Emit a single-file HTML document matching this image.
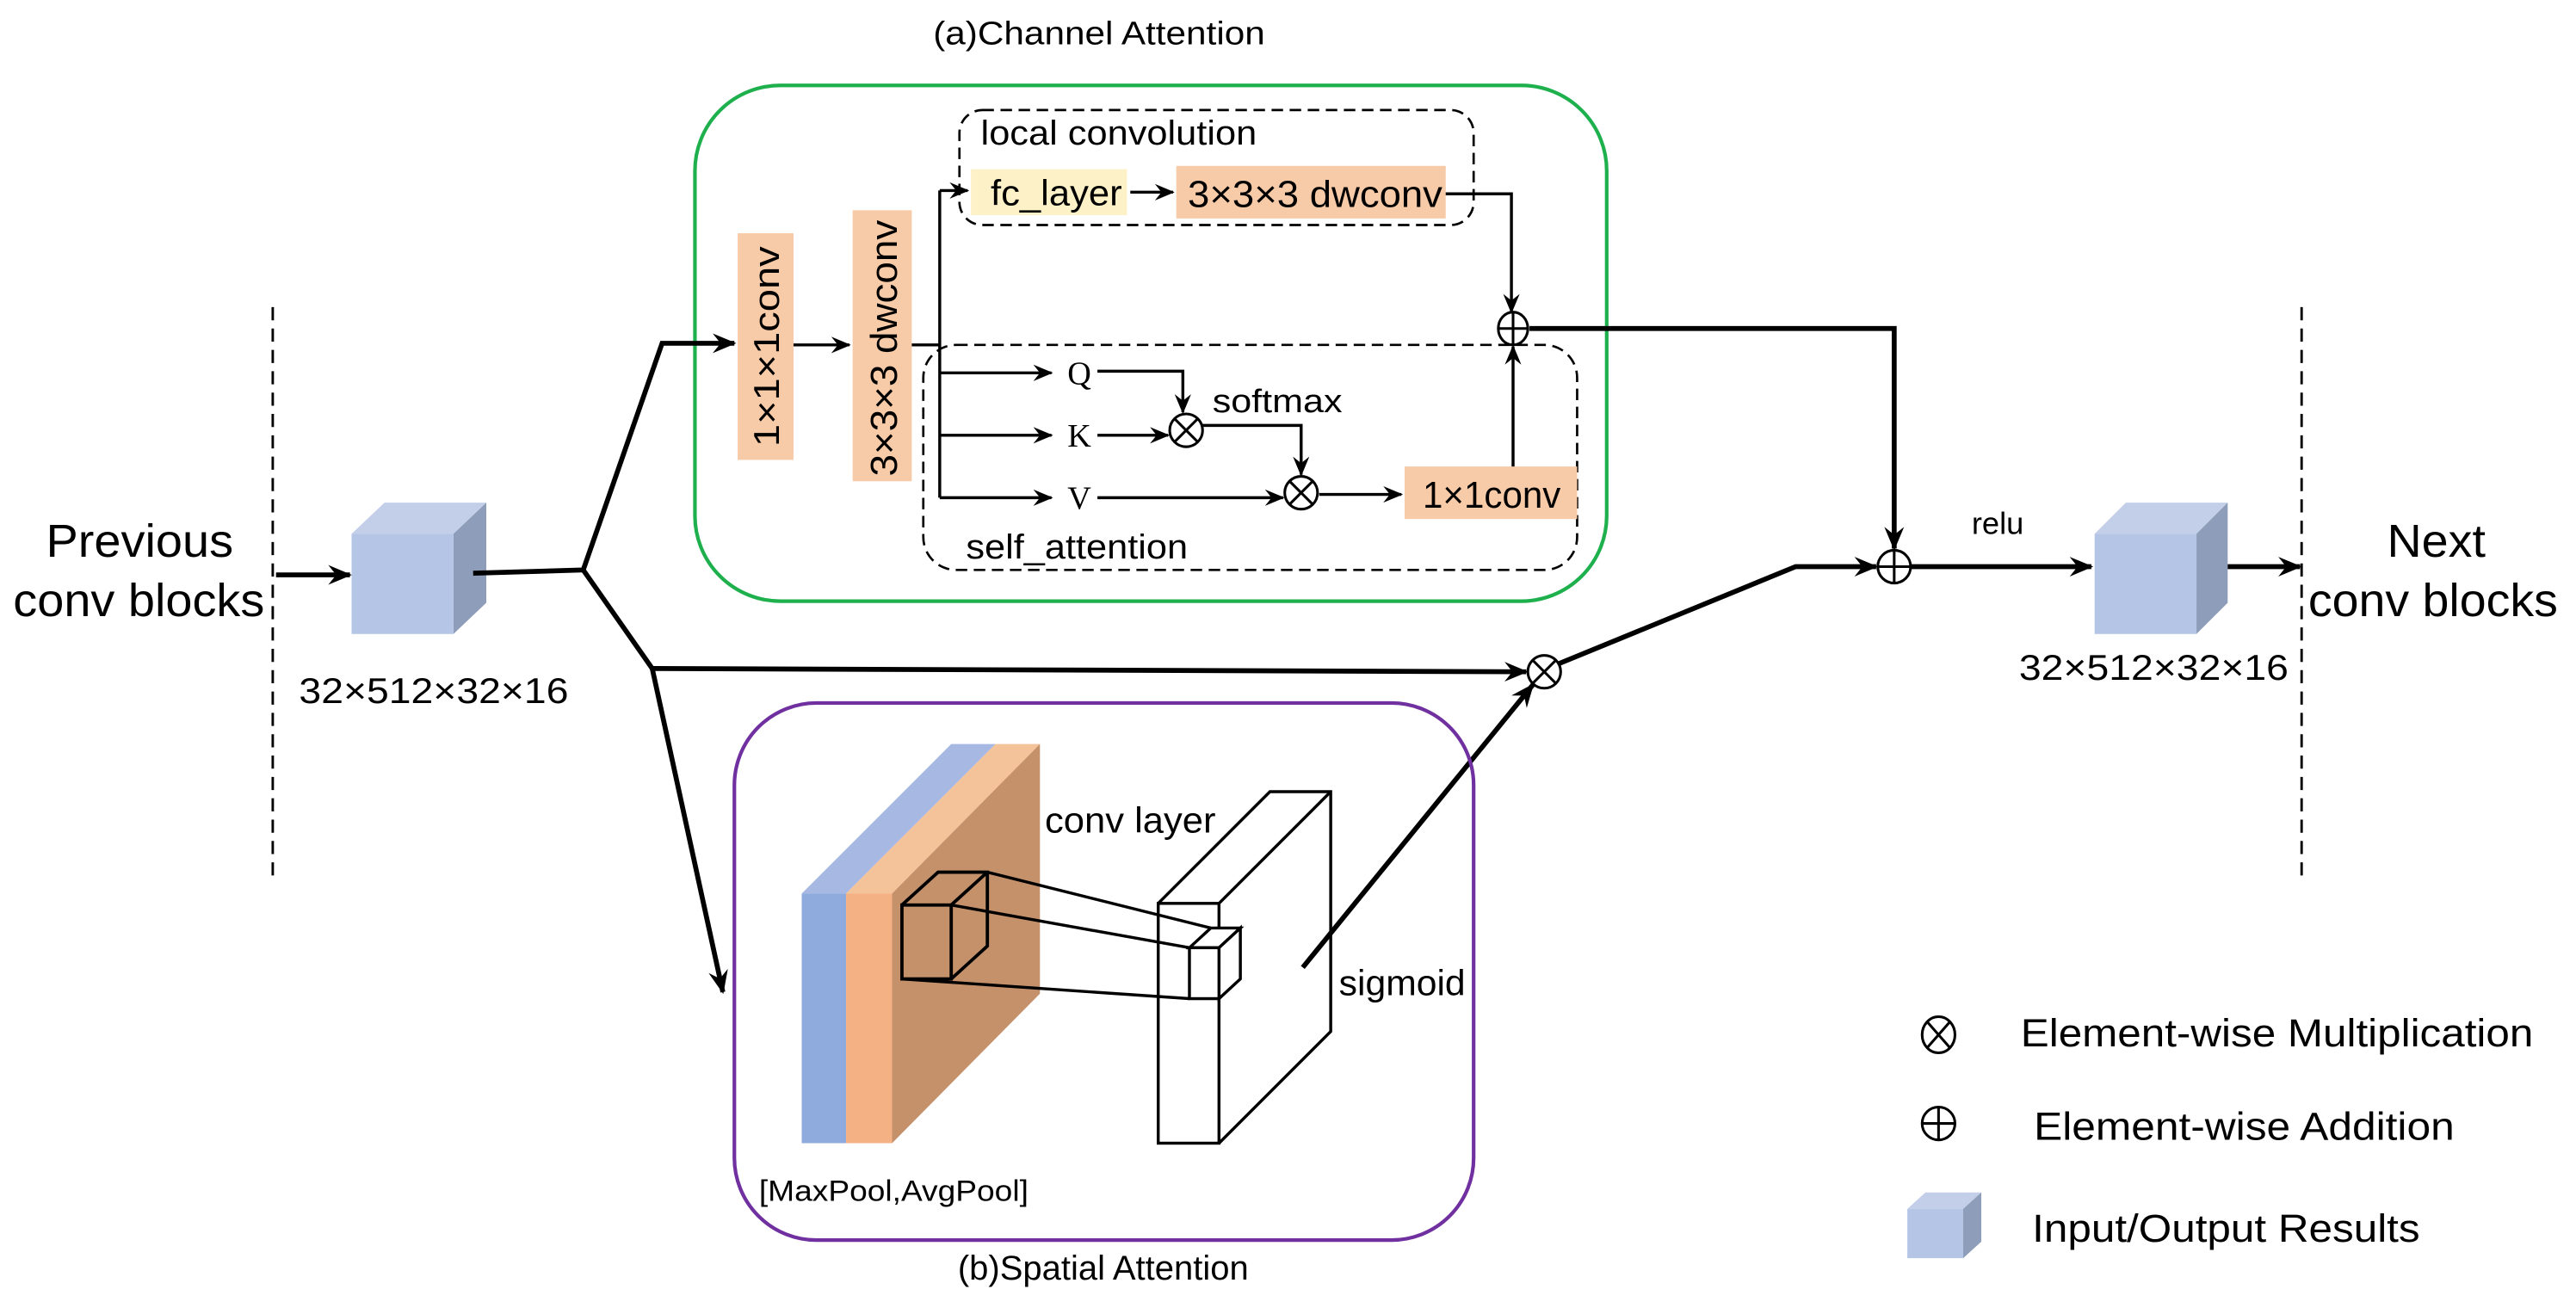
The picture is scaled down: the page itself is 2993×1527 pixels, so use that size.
<!DOCTYPE html>
<html><head><meta charset="utf-8"><style>html,body{margin:0;padding:0;background:#fff}svg{display:block}</style></head>
<body>
<svg xmlns="http://www.w3.org/2000/svg" width="2993" height="1527" viewBox="0 0 1568 800" font-family="Liberation Sans, sans-serif">
<defs>
<marker id="a" viewBox="0 0 12 10" refX="11" refY="5" markerWidth="12" markerHeight="10" markerUnits="userSpaceOnUse" orient="auto"><path d="M0,0 L12,5 L0,10 L4,5 z" fill="#000"/></marker>
<marker id="b" viewBox="0 0 12 10" refX="11" refY="5" markerWidth="15" markerHeight="12" markerUnits="userSpaceOnUse" orient="auto"><path d="M0,0 L12,5 L0,10 L4,5 z" fill="#000"/></marker>
</defs>
<rect width="1568" height="800" fill="#fff"/>

<line x1="166" y1="187" x2="166" y2="538" stroke="#000" stroke-width="1.5" stroke-dasharray="8,5"/>
<line x1="1401" y1="187" x2="1401" y2="538" stroke="#000" stroke-width="1.5" stroke-dasharray="8,5"/>

<text x="28" y="339" font-size="28" textLength="114" lengthAdjust="spacingAndGlyphs">Previous</text>
<text x="8" y="375" font-size="28" textLength="153" lengthAdjust="spacingAndGlyphs">conv blocks</text>
<text x="1453" y="339" font-size="28" textLength="60" lengthAdjust="spacingAndGlyphs">Next</text>
<text x="1405" y="375" font-size="28" textLength="152" lengthAdjust="spacingAndGlyphs">conv blocks</text>

<g>
<polygon points="214,325 234,306 296,306 276,325" fill="#c3cfe9"/>
<polygon points="276,325 296,306 296,367 276,386" fill="#8e9db9"/>
<rect x="214" y="325" width="62" height="61" fill="#b4c5e6"/>
</g>
<g>
<polygon points="1275,325 1294,306 1356,306 1337,325" fill="#c3cfe9"/>
<polygon points="1337,325 1356,306 1356,367 1337,386" fill="#8e9db9"/>
<rect x="1275" y="325" width="62" height="61" fill="#b4c5e6"/>
</g>
<text x="182" y="428" font-size="22" textLength="164" lengthAdjust="spacingAndGlyphs">32×512×32×16</text>
<text x="1229" y="414" font-size="22" textLength="164" lengthAdjust="spacingAndGlyphs">32×512×32×16</text>

<text x="568" y="27" font-size="20" textLength="202" lengthAdjust="spacingAndGlyphs">(a)Channel Attention</text>
<rect x="423" y="52" width="555" height="314" rx="52" fill="none" stroke="#1fb04e" stroke-width="2.2"/>
<rect x="584" y="67" width="313" height="70" rx="14" fill="none" stroke="#000" stroke-width="1.4" stroke-dasharray="7,4"/>
<rect x="562" y="210" width="398" height="137" rx="20" fill="none" stroke="#000" stroke-width="1.4" stroke-dasharray="7,4"/>
<text x="597" y="88" font-size="21" textLength="168" lengthAdjust="spacingAndGlyphs">local convolution</text>
<rect x="591" y="103" width="95" height="28" fill="#fdf1c8"/>
<text x="603" y="125" font-size="22" textLength="80" lengthAdjust="spacingAndGlyphs">fc_layer</text>
<rect x="716" y="101" width="164" height="32" fill="#f8cba8"/>
<text x="723" y="126" font-size="23" textLength="155" lengthAdjust="spacingAndGlyphs">3×3×3 dwconv</text>
<rect x="449" y="142" width="34" height="138" fill="#f8cba8"/>
<text transform="translate(474,272) rotate(-90)" font-size="22" textLength="122" lengthAdjust="spacingAndGlyphs">1×1×1conv</text>
<rect x="519" y="128" width="36" height="165" fill="#f8cba8"/>
<text transform="translate(546,290) rotate(-90)" font-size="23" textLength="156" lengthAdjust="spacingAndGlyphs">3×3×3 dwconv</text>
<rect x="855" y="284" width="105" height="32" fill="#f8cba8"/>
<text x="866" y="309" font-size="23" textLength="84" lengthAdjust="spacingAndGlyphs">1×1conv</text>
<text x="657" y="234" font-size="20" text-anchor="middle" font-family="Liberation Serif, serif">Q</text>
<text x="657" y="272" font-size="20" text-anchor="middle" font-family="Liberation Serif, serif">K</text>
<text x="657" y="310" font-size="20" text-anchor="middle" font-family="Liberation Serif, serif">V</text>
<text x="738" y="251" font-size="20" textLength="79" lengthAdjust="spacingAndGlyphs">softmax</text>
<text x="588" y="340" font-size="21" textLength="135" lengthAdjust="spacingAndGlyphs">self_attention</text>

<g fill="none" stroke="#000" stroke-width="1.8">
<line x1="483" y1="210" x2="517" y2="210" marker-end="url(#a)"/>
<line x1="555" y1="210" x2="572" y2="210"/>
<line x1="572" y1="116" x2="572" y2="303"/>
<line x1="572" y1="116" x2="589" y2="116" marker-end="url(#a)"/>
<line x1="572" y1="227" x2="640" y2="227" marker-end="url(#a)"/>
<line x1="572" y1="265" x2="640" y2="265" marker-end="url(#a)"/>
<line x1="572" y1="303" x2="640" y2="303" marker-end="url(#a)"/>
<line x1="688" y1="117" x2="714" y2="117" marker-end="url(#a)"/>
<polyline points="880,118 920,118 920,190" marker-end="url(#a)"/>
<polyline points="668,226 720,226 720,251" marker-end="url(#a)"/>
<line x1="668" y1="265" x2="711" y2="265" marker-end="url(#a)"/>
<polyline points="731,259 792,259 792,289" marker-end="url(#a)"/>
<line x1="668" y1="303" x2="781" y2="303" marker-end="url(#a)"/>
<line x1="803" y1="301" x2="853" y2="301" marker-end="url(#a)"/>
<line x1="921" y1="284" x2="921" y2="211" marker-end="url(#a)"/>
</g>

<g fill="#fff" stroke="#000" stroke-width="1.6">
<ellipse cx="921" cy="200" rx="9" ry="10"/><line x1="912" y1="200" x2="930" y2="200"/><line x1="921" y1="190" x2="921" y2="210"/>
<ellipse cx="722" cy="262" rx="10" ry="10"/><line x1="715" y1="255" x2="729" y2="269"/><line x1="729" y1="255" x2="715" y2="269"/>
<ellipse cx="792" cy="300" rx="10" ry="10"/><line x1="785" y1="293" x2="799" y2="307"/><line x1="799" y1="293" x2="785" y2="307"/>
<ellipse cx="940" cy="409" rx="10" ry="10"/><line x1="933" y1="402" x2="947" y2="416"/><line x1="947" y1="402" x2="933" y2="416"/>
<ellipse cx="1153" cy="345" rx="10" ry="10"/><line x1="1143" y1="345" x2="1163" y2="345"/><line x1="1153" y1="335" x2="1153" y2="355"/>
</g>

<g fill="none" stroke="#000" stroke-width="3">
<line x1="168" y1="350" x2="213" y2="350" marker-end="url(#b)"/>
<polyline points="288,349 355,347 403,209 447,209" marker-end="url(#b)"/>
<polyline points="355,347 397,407 929,409" marker-end="url(#b)"/>
<line x1="397" y1="407" x2="440" y2="604" marker-end="url(#b)"/>
<polyline points="931,200 1153,200 1153,334" marker-end="url(#b)"/>
<polyline points="949,404 1093,345 1142,345" marker-end="url(#b)"/>
<line x1="793" y1="589" x2="933" y2="417" marker-end="url(#b)"/>
<line x1="1163" y1="345" x2="1273" y2="345" marker-end="url(#b)"/>
<line x1="1356" y1="345" x2="1400" y2="345" marker-end="url(#b)"/>
</g>
<text x="1216" y="325" font-size="19" text-anchor="middle">relu</text>

<rect x="447" y="428" width="450" height="327" rx="50" fill="none" stroke="#7030a0" stroke-width="2.2"/>
<text x="583" y="779" font-size="21" textLength="177" lengthAdjust="spacingAndGlyphs">(b)Spatial  Attention</text>
<polygon points="488,544 515,544 606,453 579,453" fill="#a7b9e3"/>
<rect x="488" y="544" width="27" height="152" fill="#8faadc"/>
<polygon points="515,544 543,544 633,453 606,453" fill="#f5c39a"/>
<rect x="515" y="544" width="28" height="152" fill="#f4b183"/>
<polygon points="543,544 633,453 633,605 543,696" fill="#c5916a"/>
<g fill="none" stroke="#000" stroke-width="2">
<rect x="549" y="551" width="30" height="45"/>
<polyline points="549,551 571,531 601,531 601,576 579,596"/>
<line x1="579" y1="551" x2="601" y2="531"/>
</g>
<g fill="none" stroke="#000" stroke-width="1.8">
<rect x="705" y="550" width="37" height="146"/>
<polyline points="705,550 773,482 810,482 810,628 742,696"/>
<line x1="742" y1="550" x2="810" y2="482"/>
<line x1="601" y1="531" x2="737" y2="565"/>
<line x1="579" y1="551" x2="724" y2="577"/>
<line x1="549" y1="596" x2="724" y2="608"/>
</g>
<g fill="#fff" stroke="#000" stroke-width="1.8">
<polygon points="724,577 737,565 755,565 742,577"/>
<polygon points="742,577 755,565 755,596 742,608"/>
<rect x="724" y="577" width="18" height="31"/>
</g>
<text x="636" y="507" font-size="22" textLength="104" lengthAdjust="spacingAndGlyphs">conv layer</text>
<text x="815" y="606" font-size="22" textLength="77" lengthAdjust="spacingAndGlyphs">sigmoid</text>
<text x="462" y="731" font-size="18" textLength="164" lengthAdjust="spacingAndGlyphs">[MaxPool,AvgPool]</text>

<g fill="none" stroke="#000" stroke-width="1.6">
<ellipse cx="1180" cy="630" rx="10" ry="11"/><line x1="1173" y1="622" x2="1187" y2="638"/><line x1="1187" y1="622" x2="1173" y2="638"/>
<ellipse cx="1180" cy="684" rx="10" ry="10"/><line x1="1170" y1="684" x2="1190" y2="684"/><line x1="1180" y1="674" x2="1180" y2="694"/>
</g>
<polygon points="1161,736 1172,726 1206,726 1195,736" fill="#c3cfe9"/>
<polygon points="1195,736 1206,726 1206,756 1195,766" fill="#8e9db9"/>
<rect x="1161" y="736" width="34" height="30" fill="#b4c5e6"/>
<text x="1230" y="637" font-size="24" textLength="312" lengthAdjust="spacingAndGlyphs">Element-wise Multiplication</text>
<text x="1238" y="694" font-size="24" textLength="256" lengthAdjust="spacingAndGlyphs">Element-wise Addition</text>
<text x="1237" y="756" font-size="24" textLength="236" lengthAdjust="spacingAndGlyphs">Input/Output Results</text>
</svg>
</body></html>
